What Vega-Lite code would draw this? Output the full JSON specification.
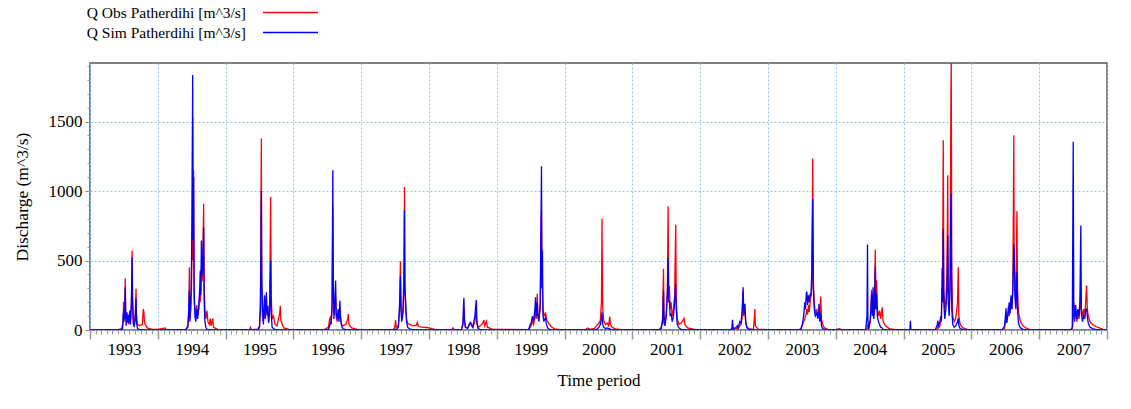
{
"$schema": "https://vega.github.io/schema/vega-lite/v6.json",
"width": 1017,
"height": 267,
"autosize": {"type": "none"},
"padding": {"left": 90, "top": 63, "right": 24, "bottom": 79},
"background": "white",
"config": {
  "view": {"stroke": "#555555", "strokeWidth": 1.5},
  "font": "Liberation Serif"
},
"datasets": {
"q": [
{"d":"1993-01-01","obs":3,"sim":0},{"d":"1993-06-01","obs":2,"sim":0},{"d":"1993-06-20","obs":10,"sim":2},{"d":"1993-06-26","obs":40,"sim":10},{"d":"1993-06-29","obs":90,"sim":120},{"d":"1993-07-01","obs":204,"sim":60},{"d":"1993-07-03","obs":60,"sim":150},{"d":"1993-07-06","obs":120,"sim":80},{"d":"1993-07-10","obs":372,"sim":307},{"d":"1993-07-12","obs":150,"sim":100},{"d":"1993-07-15","obs":60,"sim":30},{"d":"1993-07-19","obs":110,"sim":127},{"d":"1993-07-22","obs":50,"sim":60},{"d":"1993-07-26","obs":90,"sim":110},{"d":"1993-07-29","obs":40,"sim":50},{"d":"1993-08-03","obs":130,"sim":140},{"d":"1993-08-07","obs":70,"sim":40},{"d":"1993-08-12","obs":200,"sim":190},{"d":"1993-08-16","obs":572,"sim":524},{"d":"1993-08-18","obs":250,"sim":230},{"d":"1993-08-22","obs":80,"sim":50},{"d":"1993-08-27","obs":40,"sim":20},{"d":"1993-09-02","obs":120,"sim":90},{"d":"1993-09-06","obs":296,"sim":226},{"d":"1993-09-08","obs":120,"sim":60},{"d":"1993-09-14","obs":40,"sim":10},{"d":"1993-09-24","obs":30,"sim":5},{"d":"1993-10-10","obs":40,"sim":2},{"d":"1993-10-15","obs":151,"sim":3},{"d":"1993-10-18","obs":130,"sim":2},{"d":"1993-10-22","obs":50,"sim":1},{"d":"1993-11-05","obs":15,"sim":0},{"d":"1993-12-01","obs":5,"sim":0},
{"d":"1994-01-01","obs":4,"sim":0},{"d":"1994-02-10","obs":15,"sim":0},{"d":"1994-02-14","obs":3,"sim":0},{"d":"1994-06-01","obs":2,"sim":0},{"d":"1994-06-12","obs":20,"sim":30},{"d":"1994-06-17","obs":120,"sim":150},{"d":"1994-06-20","obs":452,"sim":284},{"d":"1994-06-23","obs":80,"sim":60},{"d":"1994-06-28","obs":150,"sim":200},{"d":"1994-07-02","obs":300,"sim":500},{"d":"1994-07-05","obs":700,"sim":900},{"d":"1994-07-08","obs":1530,"sim":1835},{"d":"1994-07-10","obs":500,"sim":650},{"d":"1994-07-13","obs":1150,"sim":1100},{"d":"1994-07-16","obs":200,"sim":300},{"d":"1994-07-20","obs":160,"sim":100},{"d":"1994-07-25","obs":90,"sim":60},{"d":"1994-07-30","obs":180,"sim":150},{"d":"1994-08-04","obs":100,"sim":80},{"d":"1994-08-10","obs":150,"sim":180},{"d":"1994-08-15","obs":250,"sim":300},{"d":"1994-08-18","obs":200,"sim":428},{"d":"1994-08-21","obs":300,"sim":250},{"d":"1994-08-24","obs":450,"sim":644},{"d":"1994-08-28","obs":350,"sim":400},{"d":"1994-09-01","obs":500,"sim":450},{"d":"1994-09-05","obs":909,"sim":740},{"d":"1994-09-08","obs":300,"sim":200},{"d":"1994-09-12","obs":150,"sim":60},{"d":"1994-09-17","obs":80,"sim":20},{"d":"1994-09-23","obs":139,"sim":5},{"d":"1994-09-28","obs":60,"sim":3},{"d":"1994-10-05","obs":40,"sim":2},{"d":"1994-10-11","obs":82,"sim":1},{"d":"1994-10-15","obs":30,"sim":1},{"d":"1994-10-24","obs":82,"sim":0},{"d":"1994-10-28","obs":20,"sim":0},{"d":"1994-11-20","obs":5,"sim":0},
{"d":"1995-01-01","obs":2,"sim":0},{"d":"1995-05-10","obs":3,"sim":0},{"d":"1995-05-15","obs":19,"sim":0},{"d":"1995-05-20","obs":3,"sim":0},{"d":"1995-06-25","obs":5,"sim":2},{"d":"1995-07-03","obs":30,"sim":20},{"d":"1995-07-08","obs":200,"sim":150},{"d":"1995-07-11","obs":933,"sim":600},{"d":"1995-07-13","obs":1378,"sim":1000},{"d":"1995-07-15","obs":300,"sim":400},{"d":"1995-07-19","obs":100,"sim":150},{"d":"1995-07-24","obs":60,"sim":40},{"d":"1995-07-30","obs":200,"sim":250},{"d":"1995-08-03","obs":100,"sim":80},{"d":"1995-08-09","obs":220,"sim":271},{"d":"1995-08-12","obs":100,"sim":120},{"d":"1995-08-17","obs":150,"sim":175},{"d":"1995-08-21","obs":60,"sim":50},{"d":"1995-08-27","obs":200,"sim":150},{"d":"1995-09-01","obs":957,"sim":500},{"d":"1995-09-04","obs":250,"sim":120},{"d":"1995-09-09","obs":80,"sim":20},{"d":"1995-09-16","obs":100,"sim":10},{"d":"1995-09-25","obs":40,"sim":3},{"d":"1995-10-05","obs":30,"sim":2},{"d":"1995-10-20","obs":120,"sim":1},{"d":"1995-10-23","obs":175,"sim":1},{"d":"1995-10-26","obs":70,"sim":0},{"d":"1995-11-10","obs":15,"sim":0},{"d":"1995-12-10","obs":5,"sim":0},
{"d":"1996-01-01","obs":3,"sim":0},{"d":"1996-06-15","obs":3,"sim":0},{"d":"1996-07-08","obs":20,"sim":5},{"d":"1996-07-15","obs":80,"sim":30},{"d":"1996-07-19","obs":91,"sim":60},{"d":"1996-07-23","obs":60,"sim":40},{"d":"1996-07-28","obs":150,"sim":200},{"d":"1996-08-01","obs":885,"sim":1149},{"d":"1996-08-03","obs":300,"sim":400},{"d":"1996-08-07","obs":120,"sim":80},{"d":"1996-08-12","obs":180,"sim":200},{"d":"1996-08-16","obs":250,"sim":356},{"d":"1996-08-19","obs":100,"sim":120},{"d":"1996-08-24","obs":60,"sim":80},{"d":"1996-08-30","obs":120,"sim":150},{"d":"1996-09-03","obs":80,"sim":60},{"d":"1996-09-08","obs":160,"sim":211},{"d":"1996-09-11","obs":80,"sim":100},{"d":"1996-09-17","obs":40,"sim":30},{"d":"1996-09-25","obs":30,"sim":8},{"d":"1996-10-10","obs":40,"sim":2},{"d":"1996-10-20","obs":80,"sim":1},{"d":"1996-10-23","obs":115,"sim":1},{"d":"1996-10-27","obs":40,"sim":0},{"d":"1996-11-10","obs":15,"sim":0},{"d":"1996-12-10","obs":5,"sim":0},
{"d":"1997-01-01","obs":3,"sim":0},{"d":"1997-06-20","obs":4,"sim":0},{"d":"1997-06-30","obs":15,"sim":2},{"d":"1997-07-05","obs":72,"sim":5},{"d":"1997-07-09","obs":20,"sim":3},{"d":"1997-07-20","obs":30,"sim":20},{"d":"1997-07-27","obs":150,"sim":200},{"d":"1997-07-31","obs":495,"sim":392},{"d":"1997-08-03","obs":200,"sim":150},{"d":"1997-08-07","obs":100,"sim":60},{"d":"1997-08-14","obs":150,"sim":120},{"d":"1997-08-19","obs":400,"sim":300},{"d":"1997-08-22","obs":1029,"sim":861},{"d":"1997-08-24","obs":350,"sim":300},{"d":"1997-08-28","obs":150,"sim":216},{"d":"1997-09-02","obs":80,"sim":60},{"d":"1997-09-08","obs":50,"sim":20},{"d":"1997-09-18","obs":40,"sim":8},{"d":"1997-10-05","obs":30,"sim":3},{"d":"1997-10-25","obs":35,"sim":2},{"d":"1997-10-30","obs":55,"sim":1},{"d":"1997-11-05","obs":25,"sim":1},{"d":"1997-11-25","obs":20,"sim":0},{"d":"1997-12-20","obs":18,"sim":0},
{"d":"1998-01-01","obs":15,"sim":0},{"d":"1998-02-01","obs":5,"sim":0},{"d":"1998-05-05","obs":3,"sim":0},{"d":"1998-05-10","obs":15,"sim":0},{"d":"1998-05-15","obs":3,"sim":0},{"d":"1998-06-25","obs":5,"sim":3},{"d":"1998-07-03","obs":40,"sim":50},{"d":"1998-07-06","obs":120,"sim":180},{"d":"1998-07-08","obs":163,"sim":231},{"d":"1998-07-11","obs":60,"sim":80},{"d":"1998-07-16","obs":20,"sim":20},{"d":"1998-07-28","obs":15,"sim":10},{"d":"1998-08-08","obs":40,"sim":50},{"d":"1998-08-13","obs":50,"sim":55},{"d":"1998-08-18","obs":30,"sim":40},{"d":"1998-08-25","obs":20,"sim":20},{"d":"1998-09-05","obs":60,"sim":100},{"d":"1998-09-10","obs":127,"sim":180},{"d":"1998-09-13","obs":100,"sim":216},{"d":"1998-09-16","obs":50,"sim":60},{"d":"1998-09-22","obs":20,"sim":10},{"d":"1998-10-05","obs":30,"sim":3},{"d":"1998-10-18","obs":50,"sim":2},{"d":"1998-10-23","obs":72,"sim":1},{"d":"1998-10-28","obs":30,"sim":1},{"d":"1998-11-06","obs":63,"sim":0},{"d":"1998-11-12","obs":20,"sim":0},{"d":"1998-12-10","obs":5,"sim":0},
{"d":"1999-01-01","obs":5,"sim":0},{"d":"1999-06-10","obs":3,"sim":0},{"d":"1999-06-22","obs":5,"sim":5},{"d":"1999-06-28","obs":15,"sim":30},{"d":"1999-07-05","obs":30,"sim":50},{"d":"1999-07-12","obs":60,"sim":100},{"d":"1999-07-18","obs":40,"sim":60},{"d":"1999-07-25","obs":90,"sim":140},{"d":"1999-07-29","obs":150,"sim":235},{"d":"1999-08-02","obs":80,"sim":100},{"d":"1999-08-07","obs":260,"sim":199},{"d":"1999-08-10","obs":120,"sim":100},{"d":"1999-08-16","obs":80,"sim":60},{"d":"1999-08-23","obs":150,"sim":200},{"d":"1999-08-30","obs":861,"sim":1178},{"d":"1999-09-01","obs":400,"sim":300},{"d":"1999-09-04","obs":300,"sim":572},{"d":"1999-09-07","obs":150,"sim":100},{"d":"1999-09-12","obs":100,"sim":60},{"d":"1999-09-17","obs":110,"sim":80},{"d":"1999-09-21","obs":127,"sim":90},{"d":"1999-09-25","obs":80,"sim":40},{"d":"1999-10-02","obs":60,"sim":15},{"d":"1999-10-12","obs":40,"sim":5},{"d":"1999-10-25","obs":20,"sim":2},{"d":"1999-11-10","obs":8,"sim":0},{"d":"1999-12-10","obs":3,"sim":0},
{"d":"2000-01-01","obs":3,"sim":0},{"d":"2000-04-25","obs":3,"sim":0},{"d":"2000-05-04","obs":15,"sim":0},{"d":"2000-05-20","obs":5,"sim":0},{"d":"2000-06-10","obs":12,"sim":0},{"d":"2000-06-22","obs":30,"sim":5},{"d":"2000-07-05","obs":50,"sim":20},{"d":"2000-07-12","obs":70,"sim":40},{"d":"2000-07-18","obs":200,"sim":80},{"d":"2000-07-21","obs":801,"sim":127},{"d":"2000-07-22","obs":570,"sim":100},{"d":"2000-07-25","obs":150,"sim":40},{"d":"2000-07-30","obs":70,"sim":20},{"d":"2000-08-08","obs":40,"sim":10},{"d":"2000-08-18","obs":50,"sim":15},{"d":"2000-08-25","obs":30,"sim":8},{"d":"2000-09-01","obs":96,"sim":10},{"d":"2000-09-04","obs":40,"sim":5},{"d":"2000-09-12","obs":20,"sim":2},{"d":"2000-10-01","obs":8,"sim":0},{"d":"2000-11-01","obs":3,"sim":0},
{"d":"2001-01-01","obs":3,"sim":0},{"d":"2001-05-25","obs":3,"sim":0},{"d":"2001-06-05","obs":20,"sim":10},{"d":"2001-06-12","obs":80,"sim":60},{"d":"2001-06-17","obs":440,"sim":284},{"d":"2001-06-20","obs":100,"sim":50},{"d":"2001-06-25","obs":50,"sim":30},{"d":"2001-07-02","obs":120,"sim":100},{"d":"2001-07-08","obs":300,"sim":250},{"d":"2001-07-12","obs":890,"sim":520},{"d":"2001-07-15","obs":300,"sim":200},{"d":"2001-07-19","obs":307,"sim":211},{"d":"2001-07-23","obs":150,"sim":100},{"d":"2001-07-28","obs":200,"sim":120},{"d":"2001-08-03","obs":100,"sim":60},{"d":"2001-08-10","obs":150,"sim":100},{"d":"2001-08-16","obs":250,"sim":200},{"d":"2001-08-22","obs":757,"sim":332},{"d":"2001-08-25","obs":200,"sim":150},{"d":"2001-08-30","obs":80,"sim":40},{"d":"2001-09-08","obs":40,"sim":15},{"d":"2001-09-20","obs":50,"sim":5},{"d":"2001-10-06","obs":84,"sim":3},{"d":"2001-10-10","obs":40,"sim":1},{"d":"2001-10-25","obs":15,"sim":0},{"d":"2001-12-01","obs":4,"sim":0},
{"d":"2002-01-01","obs":3,"sim":0},{"d":"2002-06-10","obs":2,"sim":0},{"d":"2002-06-20","obs":5,"sim":10},{"d":"2002-06-24","obs":20,"sim":74},{"d":"2002-06-27","obs":5,"sim":10},{"d":"2002-07-10","obs":8,"sim":15},{"d":"2002-07-20","obs":15,"sim":30},{"d":"2002-07-24","obs":10,"sim":15},{"d":"2002-08-02","obs":30,"sim":60},{"d":"2002-08-08","obs":40,"sim":50},{"d":"2002-08-14","obs":80,"sim":120},{"d":"2002-08-20","obs":284,"sim":307},{"d":"2002-08-23","obs":100,"sim":150},{"d":"2002-08-26","obs":150,"sim":120},{"d":"2002-08-30","obs":130,"sim":188},{"d":"2002-09-03","obs":60,"sim":50},{"d":"2002-09-10","obs":20,"sim":15},{"d":"2002-09-20","obs":10,"sim":5},{"d":"2002-10-15","obs":5,"sim":1},{"d":"2002-10-20","obs":100,"sim":1},{"d":"2002-10-22","obs":151,"sim":1},{"d":"2002-10-25","obs":30,"sim":0},{"d":"2002-11-10","obs":5,"sim":0},
{"d":"2003-01-01","obs":3,"sim":0},{"d":"2003-06-15","obs":3,"sim":0},{"d":"2003-06-27","obs":10,"sim":5},{"d":"2003-07-05","obs":30,"sim":40},{"d":"2003-07-12","obs":60,"sim":100},{"d":"2003-07-18","obs":80,"sim":200},{"d":"2003-07-22","obs":100,"sim":150},{"d":"2003-07-26","obs":120,"sim":260},{"d":"2003-07-29","obs":150,"sim":276},{"d":"2003-08-02","obs":110,"sim":180},{"d":"2003-08-07","obs":180,"sim":250},{"d":"2003-08-11","obs":130,"sim":200},{"d":"2003-08-16","obs":200,"sim":260},{"d":"2003-08-20","obs":250,"sim":240},{"d":"2003-08-25","obs":300,"sim":416},{"d":"2003-08-30","obs":1234,"sim":945},{"d":"2003-09-02","obs":350,"sim":300},{"d":"2003-09-07","obs":200,"sim":150},{"d":"2003-09-13","obs":120,"sim":100},{"d":"2003-09-20","obs":150,"sim":120},{"d":"2003-09-27","obs":100,"sim":80},{"d":"2003-10-03","obs":150,"sim":188},{"d":"2003-10-07","obs":80,"sim":60},{"d":"2003-10-12","obs":240,"sim":120},{"d":"2003-10-16","obs":80,"sim":30},{"d":"2003-10-22","obs":40,"sim":10},{"d":"2003-11-01","obs":15,"sim":3},{"d":"2003-11-20","obs":5,"sim":0},
{"d":"2004-01-01","obs":3,"sim":0},{"d":"2004-01-20","obs":10,"sim":0},{"d":"2004-02-01","obs":3,"sim":0},{"d":"2004-06-10","obs":2,"sim":0},{"d":"2004-06-17","obs":5,"sim":100},{"d":"2004-06-20","obs":40,"sim":615},{"d":"2004-06-22","obs":10,"sim":80},{"d":"2004-06-26","obs":5,"sim":10},{"d":"2004-07-05","obs":60,"sim":80},{"d":"2004-07-09","obs":200,"sim":150},{"d":"2004-07-12","obs":290,"sim":260},{"d":"2004-07-16","obs":120,"sim":100},{"d":"2004-07-20","obs":200,"sim":307},{"d":"2004-07-24","obs":100,"sim":80},{"d":"2004-07-28","obs":300,"sim":150},{"d":"2004-08-01","obs":577,"sim":452},{"d":"2004-08-04","obs":200,"sim":150},{"d":"2004-08-08","obs":356,"sim":260},{"d":"2004-08-12","obs":150,"sim":100},{"d":"2004-08-18","obs":100,"sim":60},{"d":"2004-08-24","obs":139,"sim":40},{"d":"2004-08-30","obs":80,"sim":20},{"d":"2004-09-07","obs":163,"sim":15},{"d":"2004-09-12","obs":60,"sim":5},{"d":"2004-09-25","obs":30,"sim":2},{"d":"2004-10-15","obs":10,"sim":0},{"d":"2004-11-15","obs":3,"sim":0},
{"d":"2005-01-01","obs":3,"sim":0},{"d":"2005-02-03","obs":2,"sim":0},{"d":"2005-02-06","obs":5,"sim":67},{"d":"2005-02-09","obs":2,"sim":0},{"d":"2005-06-20","obs":2,"sim":0},{"d":"2005-07-01","obs":10,"sim":40},{"d":"2005-07-04","obs":20,"sim":67},{"d":"2005-07-08","obs":15,"sim":20},{"d":"2005-07-15","obs":30,"sim":60},{"d":"2005-07-20","obs":80,"sim":100},{"d":"2005-07-23","obs":60,"sim":67},{"d":"2005-07-26","obs":446,"sim":300},{"d":"2005-07-29","obs":250,"sim":200},{"d":"2005-08-02","obs":1366,"sim":729},{"d":"2005-08-05","obs":300,"sim":200},{"d":"2005-08-10","obs":150,"sim":80},{"d":"2005-08-16","obs":200,"sim":150},{"d":"2005-08-22","obs":400,"sim":300},{"d":"2005-08-26","obs":1113,"sim":680},{"d":"2005-08-29","obs":300,"sim":200},{"d":"2005-09-03","obs":200,"sim":100},{"d":"2005-09-08","obs":400,"sim":300},{"d":"2005-09-12","obs":1630,"sim":981},{"d":"2005-09-14","obs":1950,"sim":800},{"d":"2005-09-17","obs":400,"sim":150},{"d":"2005-09-22","obs":100,"sim":40},{"d":"2005-09-30","obs":60,"sim":20},{"d":"2005-10-08","obs":80,"sim":30},{"d":"2005-10-18","obs":200,"sim":60},{"d":"2005-10-22","obs":452,"sim":85},{"d":"2005-10-25","obs":100,"sim":30},{"d":"2005-11-01","obs":40,"sim":10},{"d":"2005-11-15","obs":15,"sim":2},{"d":"2005-12-10","obs":5,"sim":0},
{"d":"2006-01-01","obs":3,"sim":0},{"d":"2006-06-15","obs":2,"sim":0},{"d":"2006-06-28","obs":10,"sim":30},{"d":"2006-07-03","obs":60,"sim":100},{"d":"2006-07-06","obs":80,"sim":156},{"d":"2006-07-10","obs":60,"sim":50},{"d":"2006-07-15","obs":120,"sim":100},{"d":"2006-07-19","obs":170,"sim":120},{"d":"2006-07-23","obs":100,"sim":200},{"d":"2006-07-28","obs":150,"sim":120},{"d":"2006-08-02","obs":200,"sim":250},{"d":"2006-08-07","obs":150,"sim":150},{"d":"2006-08-12","obs":300,"sim":300},{"d":"2006-08-17","obs":1402,"sim":620},{"d":"2006-08-19","obs":500,"sim":572},{"d":"2006-08-23","obs":300,"sim":250},{"d":"2006-08-28","obs":200,"sim":150},{"d":"2006-09-03","obs":856,"sim":416},{"d":"2006-09-06","obs":300,"sim":150},{"d":"2006-09-11","obs":127,"sim":50},{"d":"2006-09-16","obs":100,"sim":30},{"d":"2006-09-22","obs":60,"sim":15},{"d":"2006-10-05","obs":30,"sim":5},{"d":"2006-10-20","obs":15,"sim":2},{"d":"2006-11-10","obs":5,"sim":0},
{"d":"2007-01-01","obs":3,"sim":0},{"d":"2007-06-20","obs":3,"sim":0},{"d":"2007-06-28","obs":10,"sim":20},{"d":"2007-07-01","obs":40,"sim":789},{"d":"2007-07-03","obs":150,"sim":1354},{"d":"2007-07-06","obs":200,"sim":200},{"d":"2007-07-10","obs":80,"sim":60},{"d":"2007-07-16","obs":150,"sim":180},{"d":"2007-07-22","obs":60,"sim":80},{"d":"2007-07-28","obs":100,"sim":150},{"d":"2007-08-03","obs":80,"sim":100},{"d":"2007-08-08","obs":150,"sim":200},{"d":"2007-08-13","obs":300,"sim":752},{"d":"2007-08-16","obs":150,"sim":120},{"d":"2007-08-22","obs":100,"sim":60},{"d":"2007-08-28","obs":150,"sim":100},{"d":"2007-09-03","obs":100,"sim":80},{"d":"2007-09-08","obs":200,"sim":150},{"d":"2007-09-13","obs":320,"sim":150},{"d":"2007-09-17","obs":153,"sim":100},{"d":"2007-09-22","obs":100,"sim":50},{"d":"2007-10-02","obs":60,"sim":20},{"d":"2007-10-15","obs":40,"sim":10},{"d":"2007-11-01","obs":25,"sim":5},{"d":"2007-11-20","obs":15,"sim":2},{"d":"2007-12-10","obs":5,"sim":0},{"d":"2007-12-31","obs":3,"sim":0}
]
},
"layer": [
  {
    "data": {"name": "q"},
    "mark": {"type": "line", "strokeWidth": 1.3, "clip": true},
    "encoding": {
      "x": {"field": "d", "type": "temporal",
        "scale": {"type": "utc", "domain": [{"year": 1993, "month": 1, "date": 1, "utc": true}, {"year": 2008, "month": 1, "date": 1, "utc": true}]},
        "axis": {"orient": "bottom", "title": "Time period", "titleFont": "Liberation Serif", "titleFontSize": 17, "titleFontWeight": "normal", "titleColor": "#000000", "titlePadding": 15, "labelFont": "Liberation Serif", "labelFontSize": 17, "labelColor": "#000000", "tickCount": {"interval": "year", "step": 1}, "labelOffset": 34, "labelExpr": "utcFormat(datum.value, '%Y') == '2008' ? '' : utcFormat(datum.value, '%Y')", "labelFlush": false, "labelOverlap": false, "labelPadding": 2, "grid": true, "gridColor": "#8cc4f5", "gridDash": [2, 2], "gridWidth": 1, "tickSize": 9, "tickColor": "#999999", "tickWidth": 1.5, "domain": false}},
      "y": {"field": "obs", "type": "quantitative",
        "scale": {"domain": [0, 1921], "nice": false, "zero": true},
        "axis": {"orient": "left", "title": "Discharge (m^3/s)", "titleFont": "Liberation Serif", "titleFontSize": 17.5, "titleFontWeight": "normal", "titleColor": "#000000", "titlePadding": 17, "labelFont": "Liberation Serif", "labelFontSize": 17, "labelColor": "#000000", "format": "d", "values": [0, 500, 1000, 1500], "grid": true, "gridColor": "#8cc4f5", "gridDash": [2, 2], "gridWidth": 1, "tickSize": 5, "tickColor": "#777777", "labelPadding": 3, "domain": false}},
      "color": {"datum": "Q Obs Patherdihi [m^3/s]", "type": "nominal",
        "scale": {"range": ["#ff0000"]},
        "legend": {"orient": "none", "legendX": 172, "legendY": -79, "title": null, "padding": 0, "symbolType": "stroke", "symbolSize": 3025, "symbolStrokeWidth": 1.5, "labelAlign": "right", "labelOffset": -73, "labelLimit": 400, "labelFont": "Liberation Serif", "labelFontSize": 15.5, "labelColor": "#000000"}}
    }
  },
  {
    "data": {"name": "q"},
    "mark": {"type": "line", "strokeWidth": 1.3, "clip": true},
    "encoding": {
      "x": {"field": "d", "type": "temporal", "axis": null},
      "y": {"field": "sim", "type": "quantitative", "axis": null},
      "color": {"datum": "Q Sim Patherdihi [m^3/s]", "type": "nominal",
        "scale": {"range": ["#0000ff"]},
        "legend": {"orient": "none", "legendX": 172, "legendY": -59, "title": null, "padding": 0, "symbolType": "stroke", "symbolSize": 3025, "symbolStrokeWidth": 1.5, "labelAlign": "right", "labelOffset": -73, "labelLimit": 400, "labelFont": "Liberation Serif", "labelFontSize": 15.5, "labelColor": "#000000"}}
    }
  },
  {
    "data": {"values": []},
    "mark": {"type": "point", "opacity": 0},
    "encoding": {
      "x": {"field": "d", "type": "temporal",
        "axis": {"orient": "bottom", "title": null, "labels": false, "grid": false, "domain": false, "tickCount": {"interval": "month", "step": 1}, "tickSize": 4, "tickColor": "#999999", "tickWidth": 1}},
      "y": {"field": "v", "type": "quantitative",
        "axis": {"orient": "left", "title": null, "labels": false, "grid": false, "domain": false, "values": [0,100,200,300,400,500,600,700,800,900,1000,1100,1200,1300,1400,1500,1600,1700,1800,1900], "tickSize": 3, "tickColor": "#999999", "tickWidth": 1}}
    }
  }
],
"resolve": {"scale": {"color": "independent"}, "axis": {"x": "independent", "y": "independent"}}
}
